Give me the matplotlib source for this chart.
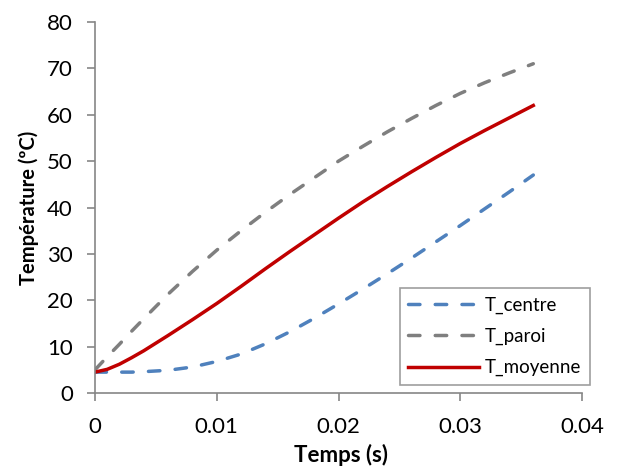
import matplotlib
matplotlib.use("Agg")
import matplotlib.pyplot as plt

t = [0, 0.001, 0.002, 0.003, 0.004, 0.006, 0.008, 0.010, 0.012, 0.014, 0.016, 0.018,
     0.020, 0.022, 0.024, 0.026, 0.028, 0.030, 0.032, 0.034, 0.036]
T_centre = [4.5, 4.5, 4.5, 4.5, 4.6, 4.9, 5.6, 6.8, 8.4, 10.6, 13.2, 16.1,
            19.2, 22.4, 25.7, 29.1, 32.6, 36.1, 39.7, 43.3, 47.0]
T_paroi = [5.0, 7.8, 10.5, 13.3, 16.0, 21.3, 26.2, 30.8, 35.0, 39.0, 42.8, 46.4,
           50.0, 53.2, 56.3, 59.2, 62.0, 64.6, 66.9, 69.0, 71.0]
T_moyenne = [4.5, 5.1, 6.2, 7.6, 9.1, 12.4, 15.8, 19.3, 23.0, 26.8, 30.5, 34.1,
             37.7, 41.2, 44.5, 47.7, 50.8, 53.8, 56.6, 59.3, 62.0]
xticks = [0, 0.01, 0.02, 0.03, 0.04]
xtick_labels = ["0", "0.01", "0.02", "0.03", "0.04"]
yticks = [0, 10, 20, 30, 40, 50, 60, 70, 80]

plt.rcParams['font.family'] = ['Lato', 'DejaVu Sans']

fig = plt.figure(figsize=(6.24, 4.74), dpi=100)
ax = fig.add_axes([95/624, 1 - 393/474, (582-95)/624, (393-22)/474])

dash = (0, (3.3, 4.4))
ax.plot(t, T_centre, color='#4F81BD', lw=2.5, linestyle=dash, label='T_centre', dash_capstyle='round')
ax.plot(t, T_paroi, color='#7F7F7F', lw=2.5, linestyle=dash, label='T_paroi', dash_capstyle='round')
ax.plot(t, T_moyenne, color='#C00000', lw=2.5, label='T_moyenne')

ax.set_xlim(0, 0.04)
ax.set_ylim(0, 80)
ax.set_xticks(xticks)
ax.set_xticklabels(xtick_labels)
ax.set_yticks(yticks)

for s in ['top', 'right']:
    ax.spines[s].set_visible(False)
for s in ['left', 'bottom']:
    ax.spines[s].set_color('#868686')
    ax.spines[s].set_linewidth(1.2)
ax.tick_params(axis='both', direction='out', length=6, width=1.2, color='#868686',
               labelsize=16, labelcolor='black')
ax.tick_params(axis='x', pad=11)
ax.tick_params(axis='y', pad=10)

ax.set_xlabel('Temps (s)', fontsize=16, fontweight='bold')
ax.set_ylabel('Température (ºC)', fontsize=14.5, fontweight='bold')
ax.xaxis.set_label_coords((341.5-95)/487, -0.138)
ax.yaxis.set_label_coords(-0.115, 0.5)

leg = ax.legend(loc='lower right', bbox_to_anchor=(1.016, 0.022), fontsize=13.5,
                frameon=True, fancybox=False, edgecolor='#868686',
                handlelength=3.8, handletextpad=0.3, labelspacing=0.75,
                borderpad=0.45, borderaxespad=0)
leg.get_frame().set_linewidth(1.2)

fig.savefig('out.png', dpi=100)
